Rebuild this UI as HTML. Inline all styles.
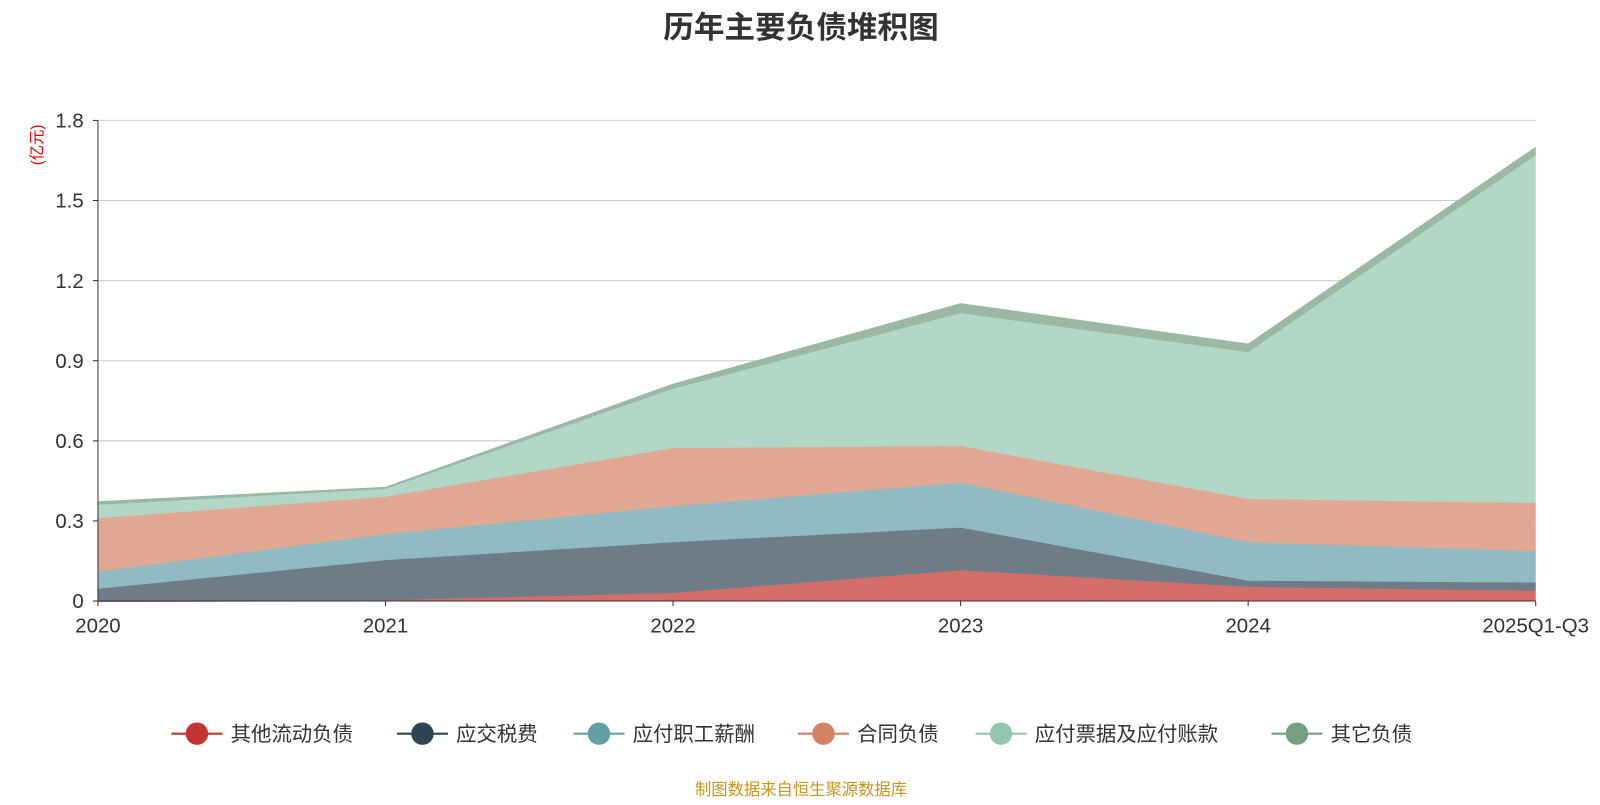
<!DOCTYPE html>
<html><head><meta charset="utf-8"><style>
body{margin:0;background:#fff;overflow:hidden;}
svg text{font-family:"Liberation Sans","Noto Sans CJK SC",sans-serif;}
</style></head><body>
<svg id="chart" width="1600" height="800" viewBox="0 0 1568 784" xmlns="http://www.w3.org/2000/svg">
<text x="785" y="37" text-anchor="middle" font-size="30" font-weight="bold" fill="#333">历年主要负债堆积图</text>
<text transform="translate(41,142) rotate(-90)" text-anchor="middle" font-size="15" fill="#e00">(亿元)</text>
<g id="grid"></g><g id="areas"></g><g id="axes"></g><g id="legend"></g>
<text x="785" y="779" text-anchor="middle" font-size="16" fill="#c8961e">制图数据来自恒生聚源数据库</text>
</svg>
<script>
const categories=["2020","2021","2022","2023","2024","2025Q1-Q3"];
const seriesNames=["其他流动负债","应交税费","应付职工薪酬","合同负债","应付票据及应付账款","其它负债"];
const s0=[0,0.003,0.03,0.115,0.053,0.038];
const s1=[0.046,0.15,0.19,0.16,0.023,0.031];
const s2=[0.064,0.097,0.135,0.168,0.144,0.118];
const s3=[0.2,0.14,0.218,0.137,0.162,0.18];
const s4=[0.05,0.03,0.222,0.498,0.55,1.303];
const s5=[0.01,0.004,0.015,0.034,0.028,0.027];
const yTicks=[0,0.3,0.6,0.9,1.2,1.5,1.8];
const yTickLabels=["0","0.3","0.6","0.9","1.2","1.5","1.8"];
const series=[s0,s1,s2,s3,s4,s5];
const lineColors=["#c23531","#2f4554","#61a0a8","#d48265","#91c7ae","#749f83"];
const fillColors=["#d46e6b","#6e7c87","#91bbc2","#e0a792","#b2d7c6","#9ab8a4"];
const NS="http://www.w3.org/2000/svg";
const X0=96,X1=1505,Y0=589,Y1=118;
const xs=i=>X0+(X1-X0)*i/(categories.length-1);
const ys=v=>Y0-(Y0-Y1)*v/1.8;
function mk(t,a,p){const e=document.createElementNS(NS,t);for(const k in a)e.setAttribute(k,a[k]);p.appendChild(e);return e;}
const grid=document.getElementById('grid'),axes=document.getElementById('axes'),areas=document.getElementById('areas'),legend=document.getElementById('legend');
yTicks.forEach((v,i)=>{
 if(v>0){const l=mk('line',{x1:X0,x2:X1,y1:ys(v),y2:ys(v),stroke:'#ccc'},grid);
 
 }
 const tk=mk('line',{x1:X0-5,x2:X0,y1:ys(v),y2:ys(v),stroke:'#333'},axes);
 
 
 const t=mk('text',{x:X0-14,y:ys(v)+7,'text-anchor':'end','font-size':20,fill:'#333'},axes);t.textContent=yTickLabels[i];
 
 
});
let base=categories.map(()=>0);
series.forEach((s,k)=>{
 const top=s.map((v,i)=>base[i]+v);
 let d='M'+top.map((v,i)=>xs(i)+','+ys(v)).join('L');
 for(let i=base.length-1;i>=0;i--)d+='L'+xs(i)+','+ys(base[i]);
 const p=mk('path',{d:d+'Z',fill:fillColors[k]},areas);
 
 
 const ln=mk('polyline',{points:top.map((v,i)=>xs(i)+','+ys(v)).join(' '),fill:'none',stroke:fillColors[k],'stroke-width':2},areas);
 
 
 base=top;
});
const ya=mk('line',{x1:X0,x2:X0,y1:Y1,y2:Y0,stroke:'#333'},axes);


const xa=mk('line',{x1:X0,x2:X1,y1:Y0,y2:Y0,stroke:'#333'},axes);


categories.forEach((c,i)=>{
 const tk=mk('line',{x1:xs(i),x2:xs(i),y1:Y0,y2:Y0+5,stroke:'#333'},axes);
 
 
 const t=mk('text',{x:xs(i),y:620,'text-anchor':'middle','font-size':20,fill:'#333'},axes);t.textContent=c;
 
 
});
const lx=[168,389,562,782,956,1246];
seriesNames.forEach((n,k)=>{
 const g=mk('g',{},legend);
 
 
 mk('line',{x1:lx[k],x2:lx[k]+50,y1:719,y2:719,stroke:lineColors[k],'stroke-width':2},g);
 mk('circle',{cx:lx[k]+25,cy:719,r:11,fill:lineColors[k]},g);
 const t=mk('text',{x:lx[k]+58,y:726,'font-size':20,fill:'#333'},g);t.textContent=n;
});
</script>
</body></html>
